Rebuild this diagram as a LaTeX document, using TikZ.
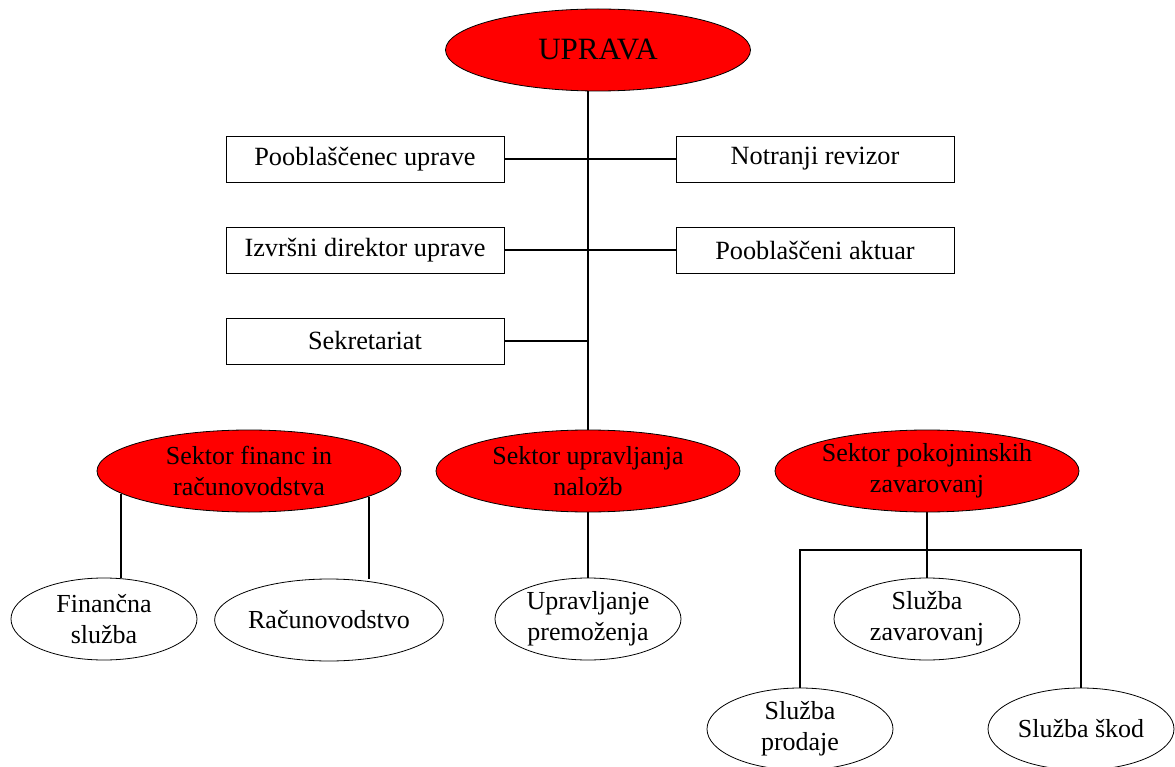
\documentclass[tikz,border=0pt]{standalone}
\usepackage{fontspec}
\setmainfont{Liberation Serif}
\usetikzlibrary{positioning,shapes.geometric}
\pgfdeclarelayer{background}
\pgfsetlayers{background,main}
\tikzset{
    head/.style = {draw, ellipse, fill = red, inner sep = 0pt, minimum width = 305pt, minimum height = 82pt, font = \fontsize{31}{35}\selectfont},
    sector/.style = {draw, ellipse, fill = red, inner sep = 0pt, minimum width = 304pt, minimum height = 82pt, align = center, font = \fontsize{26}{31}\selectfont},
    unit/.style = {draw, ellipse, fill = white, inner sep = 0pt, minimum width = 186pt, minimum height = 82pt, align = center, font = \fontsize{26}{31}\selectfont},
    staff/.style = {draw, rectangle, fill = white, inner sep = 0pt, minimum width = 278pt, minimum height = 46pt, font = \fontsize{26.3}{31}\selectfont},
    link/.style = {line width = 1.4pt},
}
\begin{document}
\begin{tikzpicture}[x = 1pt, y = -1pt, line width = 0.8pt]
    \useasboundingbox (0,0) rectangle (1175,767);

    \node (uprava) [head] at (598,50) {UPRAVA};

    \node (pooblascenec) [staff] at (365,159) {Pooblaščenec uprave};
    \node (revizor) [staff] at (815,159) {Notranji revizor};
    \node (direktor) [staff] at (365,250) {Izvršni direktor uprave};
    \node (aktuar) [staff] at (815,250) {Pooblaščeni aktuar};
    \node (sekretariat) [staff] at (365,341) {Sekretariat};

    \node (financ) [sector] at (249,471) {Sektor financ in\\računovodstva};
    \node (nalozbe) [sector] at (588,471) {Sektor upravljanja\\naložb};
    \node (pokojnine) [sector] at (927,471) {Sektor pokojninskih\\zavarovanj};

    \node (financna) [unit] at (104,619) {Finančna\\služba};
    \node (racunovodstvo) [unit, minimum width = 213pt] at (329,620) {Računovodstvo};
    \node (premozenje) [unit] at (588,619) {Upravljanje\\premoženja};
    \node (zavarovanja) [unit] at (927,619) {Služba\\zavarovanj};
    \node (prodaja) [unit] at (800,729) {Služba\\prodaje};
    \node (skode) [unit] at (1081,729) {Služba škod};

    \coordinate (bus) at (927,550);

    \begin{pgfonlayer}{background}
        \draw [link] (nalozbe.north) -- (nalozbe.north |- uprava.south);
        \draw [link] (pooblascenec.east) -- (revizor.west);
        \draw [link] (direktor.east) -- (aktuar.west);
        \draw [link] (sekretariat.east) -- (sekretariat.east -| nalozbe.north);
        \draw [link] (financ.190) -- (financ.190 |- financna.north);
        \draw [link] (financ.348) -- (financ.348 |- racunovodstvo.north);
        \draw [link] (nalozbe.south) -- (premozenje.north);
        \draw [link] (pokojnine.south) -- (zavarovanja.north);
        \draw [link] (prodaja.north) |- (bus) -| (skode.north);
    \end{pgfonlayer}
\end{tikzpicture}
\end{document}
